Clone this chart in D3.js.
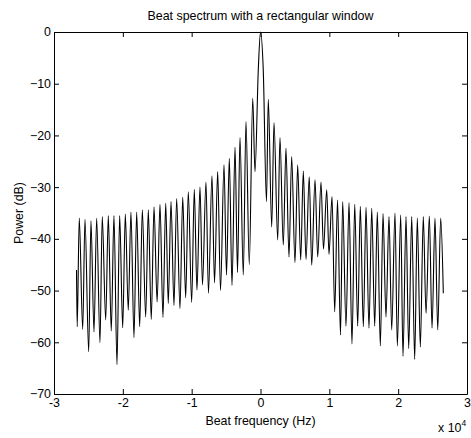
<!DOCTYPE html>
<html><head><meta charset="utf-8">
<script src="https://cdn.jsdelivr.net/npm/d3@7"></script>
<style>
body{margin:0;background:#fff;}
svg text{font-family:"Liberation Sans",Arial,sans-serif;fill:#000;}
</style></head>
<body><svg id="c" width="471" height="438"></svg>
<script>
// Beat frequency (Hz) and power (dB)
const freqHz = [
-26730,-26630,-26330,-25830,-25500,-24960,-24630,-24190,-23800,-23320,
-22990,-22490,-22110,-21680,-21290,-20850,-20460,-20020,-19640,-19210,
-18820,-18380,-17990,-17550,-17170,-16680,-16300,-15870,-15470,-15020,
-14600,-14170,-13770,-13400,-13000,-12570,-12180,-11700,-11300,-10870,
-10490,-10000,-9620,-9230,-8790,-8430,-7920,-7560,-7050,-6680,
-6220,-5810,-5300,-4940,-4530,-4140,-3700,-3340,-2980,-2500,
-2110,-1630,-1130,-800,-320,0,400,870,1130,1630,
1960,2500,2830,3310,3700,4140,4530,5010,5400,5840,
6220,6610,7080,7440,7920,8310,8790,9150,9620,9950,
10390,10780,11190,11620,11940,12420,12860,13290,13690,14120,
14500,14940,15330,15760,16160,16590,16970,17410,17800,18230,
18670,19060,19540,19880,20370,20700,21140,21530,21970,22400,
22780,23220,23650,24050,24530,24920,25350,25750,26180,26560
];
const powerDb = [
-46,-57.0,-36.0,-57.5,-36.2,-61.8,-36.5,-58.0,-36.0,-60.1,
-35.7,-55.7,-35.5,-57.8,-35.5,-64.3,-35.5,-57.2,-35.2,-53.8,
-34.8,-59.1,-34.8,-57.0,-34.4,-55.1,-34.4,-55.6,-33.8,-52.2,
-33.3,-55.2,-33.1,-52.5,-32.8,-52.9,-32.2,-53.5,-31.9,-51.4,
-30.9,-52.3,-30.4,-49.9,-30.0,-48.9,-29.0,-50.5,-27.8,-48.5,
-27.0,-50.0,-25.7,-47.0,-24.4,-49.0,-22.3,-46.5,-20.4,-47.0,
-17.3,-45.0,-12.8,-27.0,-7.3,0,-7.3,-32.8,-13.0,-37.7,
-17.5,-40.2,-20.4,-41.2,-22.5,-43.5,-24.1,-44.6,-25.7,-44.1,
-26.9,-44.0,-28.0,-45.1,-28.6,-43.5,-29.0,-42.0,-30.5,-43.0,
-31.8,-54.1,-32.5,-58.6,-32.8,-56.9,-33.0,-60.3,-33.3,-56.9,
-33.7,-57.0,-33.9,-57.3,-34.1,-56.9,-34.8,-60.7,-35.1,-55.1,
-35.7,-57.6,-35.0,-60.7,-35.4,-62.7,-35.7,-61.2,-35.7,-63.3,
-36.0,-60.9,-35.7,-54.4,-35.6,-57.3,-36.0,-57.6,-36.0,-50.5
];
const xTicks = [-30000,-20000,-10000,0,10000,20000,30000];
const xTickLabels = ["-3","-2","-1","0","1","2","3"];
const yTicks = [0,-10,-20,-30,-40,-50,-60,-70];
const title = "Beat spectrum with a rectangular window";
const xLabel = "Beat frequency (Hz)";
const yLabel = "Power (dB)";

const svg = d3.select("#c");
const L=54, R=467, T=32, B=394;
const x = d3.scaleLinear().domain([-30000,30000]).range([L,R]);
const y = d3.scaleLinear().domain([-70,0]).range([B,T]);

const pts = freqHz.map((f,i)=>[f,powerDb[i]]);
svg.append("path").datum(pts)
  .attr("fill","none").attr("stroke","#000").attr("stroke-width",1.1)
  .attr("d", d3.line().x(d=>x(d[0])).y(d=>y(d[1])).curve(d3.curveMonotoneX));

const fs = "12.4px";
// bottom axis
const ax = svg.append("g").attr("transform",`translate(0,${B})`)
  .call(d3.axisBottom(x).tickValues(xTicks).tickFormat((d,i)=>xTickLabels[i]).tickSizeInner(-5).tickSizeOuter(0).tickPadding(9));
const axT = svg.append("g").attr("transform",`translate(0,${T})`)
  .call(d3.axisTop(x).tickValues(xTicks).tickFormat("").tickSizeInner(-5).tickSizeOuter(0));
const ay = svg.append("g").attr("transform",`translate(${L},0)`)
  .call(d3.axisLeft(y).tickValues(yTicks).tickFormat(d3.format("d")).tickSizeInner(-5).tickSizeOuter(0).tickPadding(3));
const ayR = svg.append("g").attr("transform",`translate(${R},0)`)
  .call(d3.axisRight(y).tickValues(yTicks).tickFormat("").tickSizeInner(-5).tickSizeOuter(0));
[ax,axT,ay,ayR].forEach(g=>{
  g.selectAll("path").attr("stroke","#000").attr("stroke-width",1);
  g.selectAll("line").attr("stroke","#000");
  g.selectAll("text").style("font-size",fs).style("font-family","'Liberation Sans',Arial,sans-serif").attr("fill","#000");
});
ax.selectAll("text").attr("dy","0.35em");

svg.append("text").attr("x",(L+R)/2).attr("y",20).attr("text-anchor","middle").style("font-size",fs).text(title);
svg.append("text").attr("x",(L+R)/2).attr("y",425).attr("text-anchor","middle").style("font-size",fs).text(xLabel);
svg.append("text").attr("transform",`translate(23,${(T+B)/2}) rotate(-90)`).attr("text-anchor","middle").style("font-size",fs).text(yLabel);
const ex = svg.append("text").attr("x",438).attr("y",432).style("font-size",fs);
ex.append("tspan").text("x 10");
ex.append("tspan").attr("dy",-6).style("font-size","8.5px").text("4");
</script></body></html>
